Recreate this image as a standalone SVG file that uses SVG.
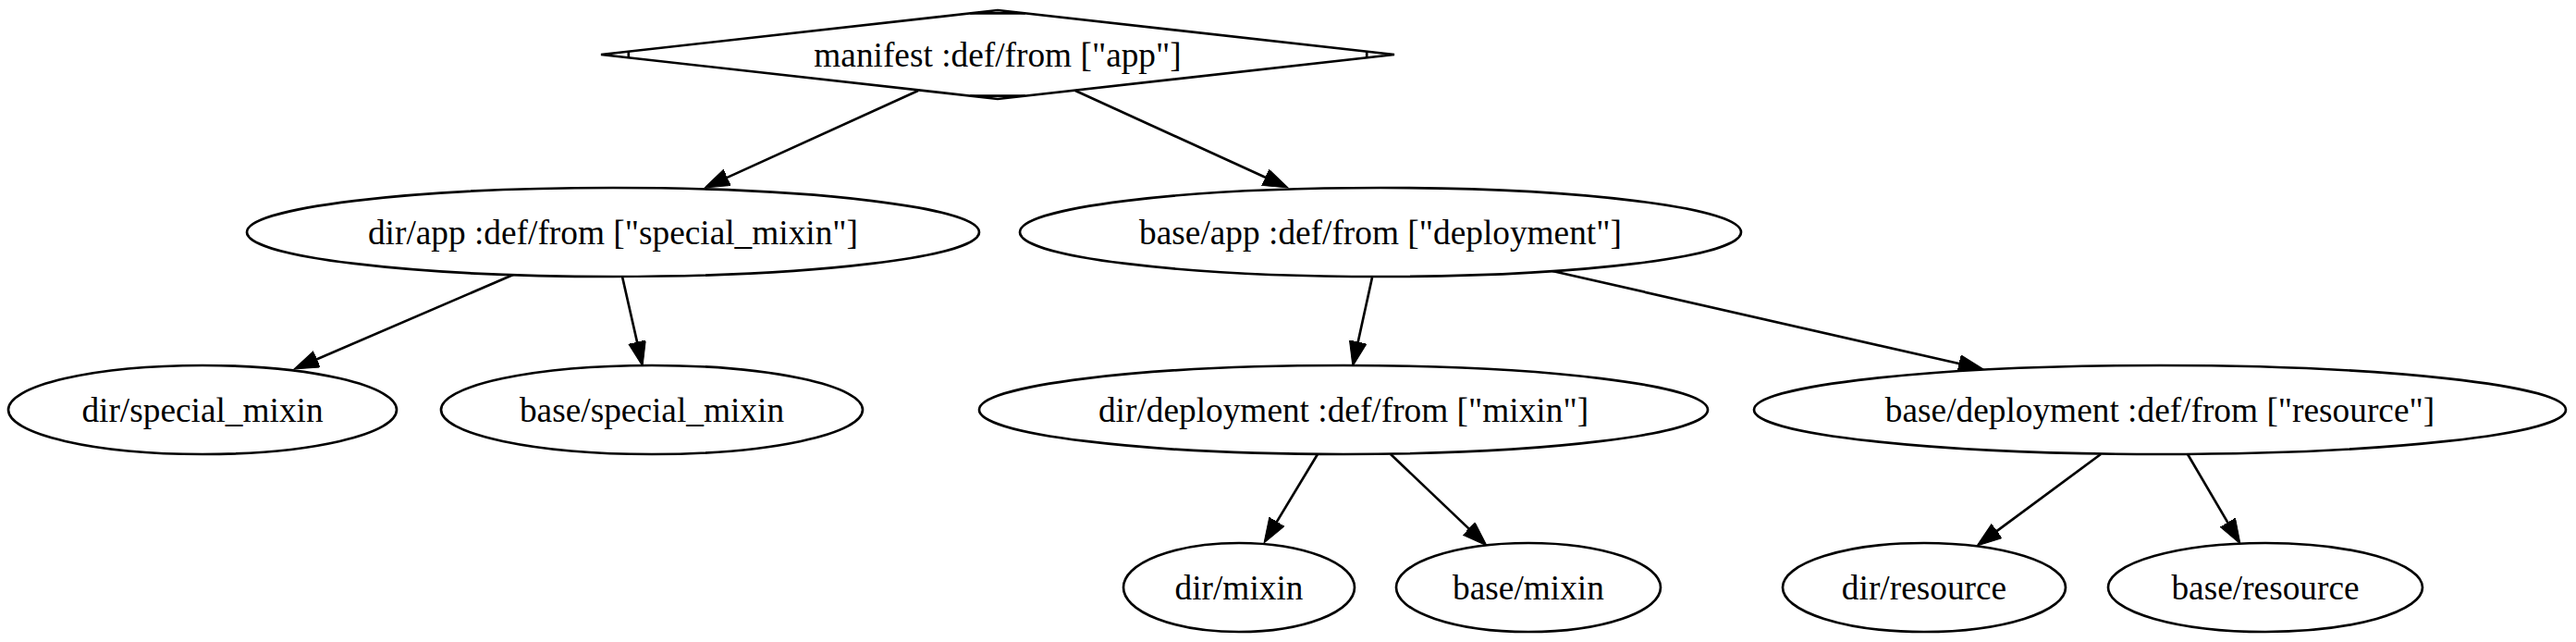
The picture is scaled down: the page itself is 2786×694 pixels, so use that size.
<svg xmlns="http://www.w3.org/2000/svg" width="2786" height="694" viewBox="0 0 2786 694">
<defs>
<style>
.n ellipse, .n polygon, .n line { fill: #ffffff; stroke: #000000; stroke-width: 2.67; }
.n line { fill: none; }
.n text { font-family: "Liberation Serif", "Times New Roman", serif; font-size: 37.33px; text-anchor: middle; fill: #000000; }
.e path { fill: none; stroke: #000000; stroke-width: 2.67; marker-end: url(#ah); }
</style>
<marker id="ah" markerUnits="userSpaceOnUse" markerWidth="28" markerHeight="20" refX="17" refY="9.5" orient="auto">
<path d="M0,0 L27,9.5 L0,19 Z" fill="#000000" stroke="#000000" stroke-width="1"/>
</marker>
</defs>
<rect width="2786" height="694" fill="#ffffff"/>
<g id="edges" class="e">
<path d="M993,98 L771.1,198.9"/>
<path d="M1163,98 L1383.9,198.8"/>
<path d="M555,297 L327.2,395"/>
<path d="M673,299 L692.8,386.3"/>
<path d="M1484,300 L1465.1,386.2"/>
<path d="M1679,293 L2135.2,396.8"/>
<path d="M1425,491 L1372.2,578.4"/>
<path d="M1504,491 L1600.8,583.1"/>
<path d="M2272,491 L2146,584.1"/>
<path d="M2366,491 L2417.9,579.4"/>
</g>
<g id="manifest" class="n">
<polygon points="1079,11 1508,59 1079,107 650,59"/>
<line x1="1049.2" y1="14.3" x2="1108.8" y2="14.3"/>
<line x1="1049.2" y1="103.7" x2="1108.8" y2="103.7"/>
<line x1="679.8" y1="55.7" x2="679.8" y2="62.3"/>
<line x1="1478.2" y1="55.7" x2="1478.2" y2="62.3"/>
<text x="1079" y="71.5">manifest :def/from ["app"]</text>
</g>
<g id="dir_app" class="n">
<ellipse cx="663" cy="251" rx="396" ry="48"/>
<text x="663" y="263.5">dir/app :def/from ["special_mixin"]</text>
</g>
<g id="base_app" class="n">
<ellipse cx="1493" cy="251" rx="390" ry="48"/>
<text x="1493" y="263.5">base/app :def/from ["deployment"]</text>
</g>
<g id="dir_special_mixin" class="n">
<ellipse cx="219" cy="443" rx="210" ry="48"/>
<text x="219" y="455.5">dir/special_mixin</text>
</g>
<g id="base_special_mixin" class="n">
<ellipse cx="705" cy="443" rx="228" ry="48"/>
<text x="705" y="455.5">base/special_mixin</text>
</g>
<g id="dir_deployment" class="n">
<ellipse cx="1453" cy="443" rx="394" ry="48"/>
<text x="1453" y="455.5">dir/deployment :def/from ["mixin"]</text>
</g>
<g id="base_deployment" class="n">
<ellipse cx="2336" cy="443" rx="439" ry="48"/>
<text x="2336" y="455.5">base/deployment :def/from ["resource"]</text>
</g>
<g id="dir_mixin" class="n">
<ellipse cx="1340" cy="635" rx="125" ry="48"/>
<text x="1340" y="647.5">dir/mixin</text>
</g>
<g id="base_mixin" class="n">
<ellipse cx="1653" cy="635" rx="143" ry="48"/>
<text x="1653" y="647.5">base/mixin</text>
</g>
<g id="dir_resource" class="n">
<ellipse cx="2081" cy="635" rx="153" ry="48"/>
<text x="2081" y="647.5">dir/resource</text>
</g>
<g id="base_resource" class="n">
<ellipse cx="2450" cy="635" rx="170" ry="48"/>
<text x="2450" y="647.5">base/resource</text>
</g>
</svg>
